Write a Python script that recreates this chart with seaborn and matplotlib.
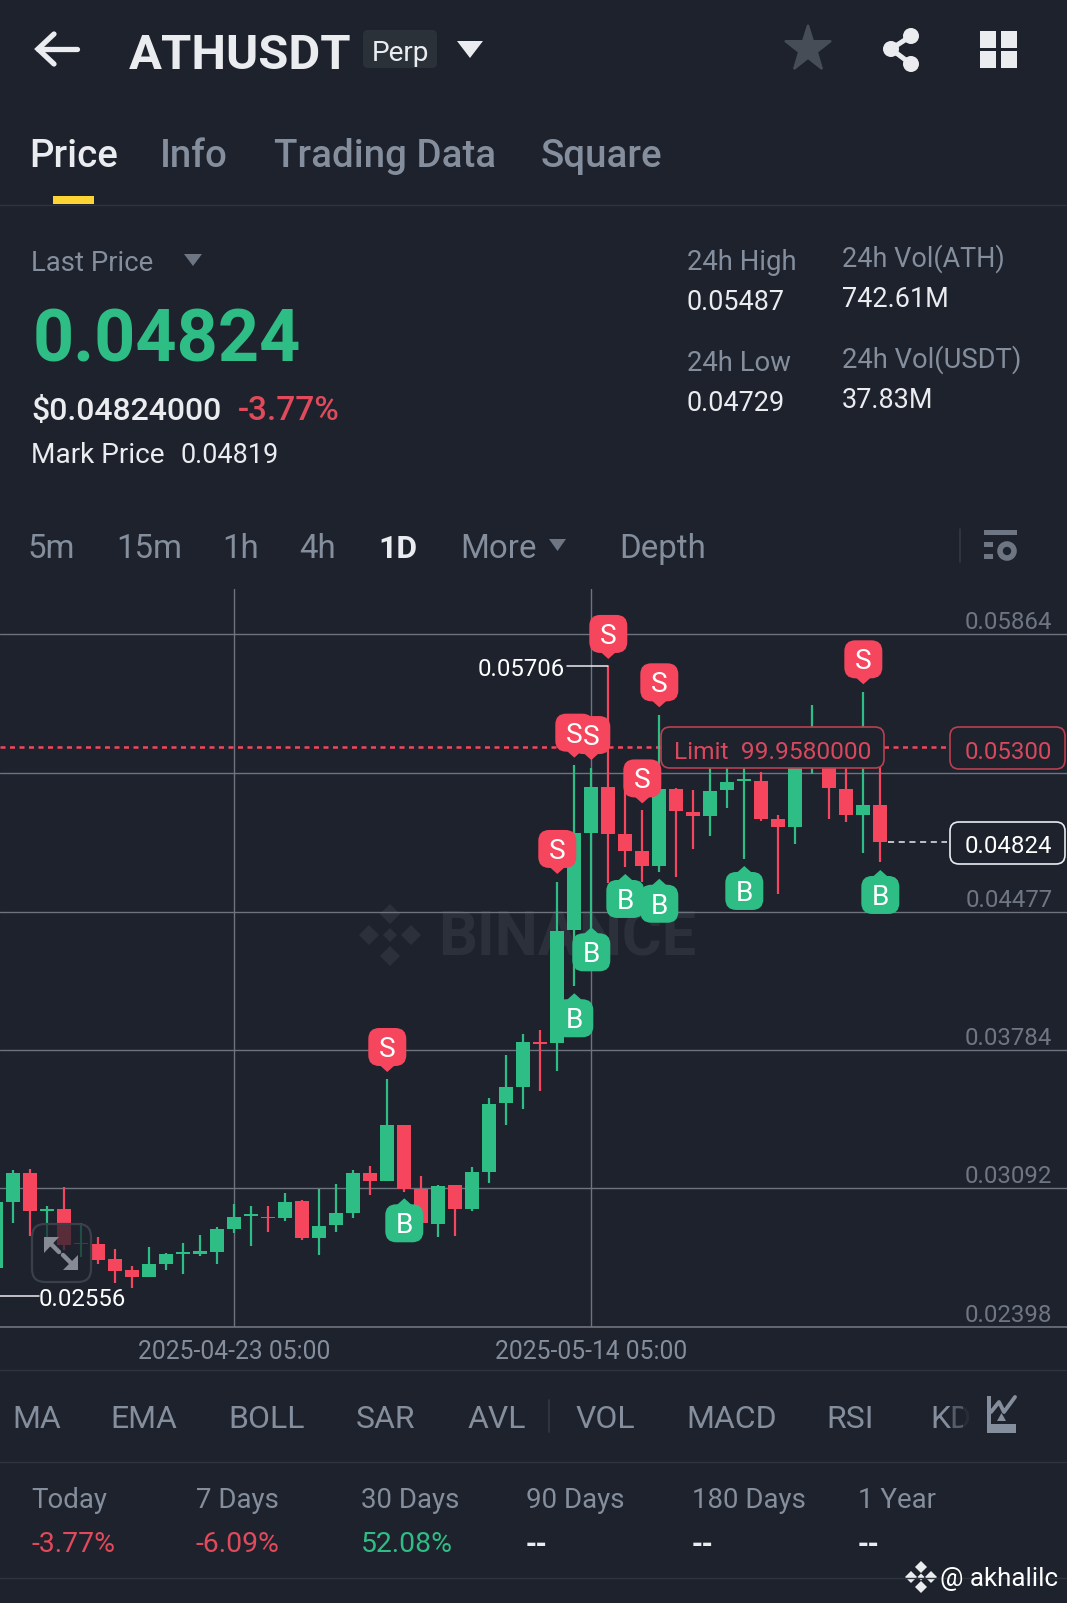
import numpy as np
import pandas as pd
import matplotlib
matplotlib.use('Agg')
import matplotlib.pyplot as plt
from matplotlib.patches import FancyBboxPatch, Polygon, Rectangle, Circle
import seaborn as sns

# ==========================================
# data (daily candles)
# ==========================================
opens = [0.02692, 0.03025, 0.03167, 0.02978, 0.02990, 0.02813, 0.02812, 0.02737, 0.02683, 0.02650,
         0.02712, 0.02763, 0.02763, 0.02775, 0.02887, 0.02953, 0.02950, 0.02943, 0.03029, 0.02845,
         0.02908, 0.02970, 0.03167, 0.03129, 0.03407, 0.03087, 0.02915, 0.03107, 0.02987, 0.03175,
         0.03517, 0.03599, 0.03823, 0.03818, 0.04385, 0.04868, 0.05099, 0.04865, 0.04782, 0.04707,
         0.05090, 0.04977, 0.04955, 0.05085, 0.05132, 0.05132, 0.04942, 0.04902, 0.05252, 0.05335,
         0.05092, 0.04960, 0.05008]
closes = [0.03025, 0.03167, 0.02977, 0.02987, 0.02808, 0.02820, 0.02733, 0.02680, 0.02650, 0.02713,
          0.02762, 0.02775, 0.02777, 0.02887, 0.02950, 0.02962, 0.02942, 0.03025, 0.02842, 0.02905,
          0.02970, 0.03167, 0.03129, 0.03407, 0.03087, 0.02917, 0.03105, 0.02987, 0.03175, 0.03514,
          0.03597, 0.03826, 0.03814, 0.04381, 0.04868, 0.05099, 0.04865, 0.04782, 0.04707, 0.05090,
          0.04980, 0.04955, 0.05080, 0.05127, 0.05142, 0.04942, 0.04898, 0.05252, 0.05369, 0.05097,
          0.04960, 0.05008, 0.04824]
highs = [0.03035, 0.03184, 0.03189, 0.03005, 0.03097, 0.02917, 0.02850, 0.02790, 0.02705, 0.02800,
         0.02770, 0.02817, 0.02858, 0.02897, 0.03012, 0.03002, 0.03004, 0.03067, 0.03032, 0.03087,
         0.03115, 0.03184, 0.03202, 0.03637, 0.03407, 0.03154, 0.03109, 0.03110, 0.03200, 0.03542,
         0.03759, 0.03864, 0.03884, 0.04626, 0.05210, 0.05197, 0.05706, 0.05085, 0.04985, 0.05460,
         0.05095, 0.05085, 0.05252, 0.05252, 0.05252, 0.05177, 0.04960, 0.05285, 0.05511, 0.05369,
         0.05219, 0.05577, 0.05252]
lows = [0.02680, 0.02917, 0.02853, 0.02842, 0.02783, 0.02750, 0.02713, 0.02617, 0.02593, 0.02650,
        0.02683, 0.02663, 0.02753, 0.02713, 0.02867, 0.02803, 0.02875, 0.02930, 0.02833, 0.02757,
        0.02875, 0.02943, 0.03059, 0.03129, 0.03075, 0.02917, 0.02848, 0.02853, 0.02980, 0.03120,
        0.03407, 0.03489, 0.03579, 0.03679, 0.04104, 0.04385, 0.04618, 0.04702, 0.04626, 0.04677,
        0.04652, 0.04788, 0.04855, 0.04993, 0.04740, 0.04930, 0.04565, 0.04815, 0.05165, 0.04940,
        0.04923, 0.04768, 0.04723]

# grid levels on the price axis
price_grid = [0.05864, 0.05170, 0.04477, 0.03784, 0.03092, 0.02398]
price_labels = [0.05864, 0.04477, 0.03784, 0.03092, 0.02398]
date_idx = [14, 35]
date_labels = ['2025-04-23 05:00', '2025-05-14 05:00']

# buy / sell badges: candle index, price at the badge tip
sell_idx = [23, 33, 34, 35, 36, 38, 39, 51]
sell_tip = [0.03674, 0.04665, 0.05247, 0.05235, 0.05741, 0.05018, 0.05499, 0.05614]
buy_idx = [24, 34, 35, 37, 39, 44, 52]
buy_tip = [0.03042, 0.04068, 0.04398, 0.04665, 0.04641, 0.04705, 0.04685]

last_price = 0.04824
limit_price = 0.05300
chart_high = 0.05706

tabs = ['Price', 'Info', 'Trading Data', 'Square']
intervals = ['5m', '15m', '1h', '4h', '1D', 'More', 'Depth']
indicators = ['MA', 'EMA', 'BOLL', 'SAR', 'AVL', 'VOL', 'MACD', 'RSI', 'KD']
period_names = ['Today', '7 Days', '30 Days', '90 Days', '180 Days', '1 Year']
period_values = ['-3.77%', '-6.09%', '52.08%', '--', '--', '--']

BG = '#1D222D'
GREEN = '#2EBD85'
RED = '#F6465D'
GRAY = '#848E9C'
DIM = '#6F7683'
WHITE = '#EAECEF'
LINE = '#6E7380'

df = pd.DataFrame({'idx': range(len(opens)), 'open': opens, 'close': closes, 'high': highs, 'low': lows})
df['side'] = np.where(df['close'] >= df['open'], 'up', 'down')
df['bottom'] = df[['open', 'close']].min(axis=1)
df['body'] = (df['close'] - df['open']).abs()

wicks = df.melt(id_vars=['idx', 'side'], value_vars=['high', 'low'], value_name='price')

sns.set_theme(style='dark', rc={'axes.facecolor': BG, 'figure.facecolor': BG})
plt.rcParams['font.family'] = ['Roboto', 'DejaVu Sans']

W, H = 1067, 1603
fig = plt.figure(figsize=(W / 100, H / 100), dpi=100, facecolor=BG)

# back layer for watermark, chart in the middle, UI on top
back = fig.add_axes([0, 0, 1, 1], zorder=0)
ax = fig.add_axes([0, 1 - 1327 / H, 1, (1327 - 589) / H], zorder=1)
ax.patch.set_alpha(0)
ui = fig.add_axes([0, 0, 1, 1], zorder=2)
for a in (back, ui):
    a.set_xlim(0, W)
    a.set_ylim(H, 0)
    a.axis('off')
    a.patch.set_alpha(0)


def txt(a, x, y, s, px, color, weight='normal', ha='left', **kw):
    return a.text(x, y, s, fontsize=px * 0.72, color=color, fontweight=weight, ha=ha, va='baseline', **kw)


# ==========================================
# CANDLES
# ==========================================
sns.lineplot(data=wicks, x='idx', y='price', hue='side', units='idx', estimator=None, sort=False,
             palette={'up': GREEN, 'down': RED}, legend=False, linewidth=1.6, ax=ax, zorder=3,
             solid_capstyle='butt')
for side, col in [('up', GREEN), ('down', RED)]:
    part = df[df['side'] == side]
    sns.barplot(data=part, x='idx', y='body', bottom=part['bottom'].to_numpy(), color=col, saturation=1,
                native_scale=True, width=0.82, errorbar=None, linewidth=0, ax=ax, zorder=4)

ax.set_xlim(0.22, 62.98)
ax.set_ylim(0.02398, 0.02398 + 738 * 5.004e-5)
ax.set_xlabel('')
ax.set_ylabel('')
ax.set_yticks(price_grid)
ax.set_yticklabels([])
ax.set_xticks(date_idx)
ax.set_xticklabels(date_labels)
ax.tick_params(axis='x', length=0, pad=9.2, labelsize=24.6 * 0.72, labelcolor=GRAY)
ax.tick_params(axis='y', length=0)
ax.set_axisbelow(True)
ax.grid(True, color=LINE, linewidth=1.0)
for name, sp in ax.spines.items():
    sp.set_visible(name == 'bottom')
    sp.set_color(LINE)
    sp.set_linewidth(1.2)

for v in price_labels:
    ax.annotate(f'{v:.5f}', xy=(1, v), xycoords=ax.get_yaxis_transform(), xytext=(-10.5, 3.6),
                textcoords='offset points', ha='right', va='baseline', fontsize=24 * 0.72, color=DIM, zorder=2)

ax.axhline(limit_price, xmax=950 / W, color=RED, linewidth=1.8, linestyle=(0, (2, 1.8)), zorder=2.5)


def to_px(i, p):
    return ui.transData.inverted().transform(ax.transData.transform((i, p)))


# ==========================================
# price labels on the chart
# ==========================================
xl, yl = to_px(36, chart_high)
ui.plot([567, xl], [yl, yl], color=WHITE, lw=1.1)
txt(ui, 565, 676, f'{chart_high:.5f}', 24, '#FFFFFF', ha='right')
ui.plot([0, 39], [1296, 1296], color=WHITE, lw=1.1)
txt(ui, 39, 1306, '0.02556', 24, '#FFFFFF')

# limit order
ui.add_patch(FancyBboxPatch((661, 727), 223, 41, boxstyle='round,pad=0,rounding_size=9', fc=BG, ec='#B9404F', lw=1.2, zorder=5))
txt(ui, 674, 759, 'Limit  99.9580000', 24.5, '#D9485C', zorder=6)
ui.add_patch(FancyBboxPatch((950, 727), 115, 42, boxstyle='round,pad=0,rounding_size=9', fc=BG, ec='#B9404F', lw=1.2, zorder=5))
txt(ui, 1008, 759, f'{limit_price:.5f}', 24, '#D9485C', ha='center', zorder=6)

# last price
xl, yl = to_px(52, last_price)
ui.plot([xl + 8, 947], [yl, yl], color=WHITE, lw=1.1, ls=(0, (4, 3)))
ui.add_patch(FancyBboxPatch((950, 822), 115, 42, boxstyle='round,pad=0,rounding_size=9', fc=BG, ec=WHITE, lw=1.2, zorder=5))
txt(ui, 1008, 853, f'{last_price:.5f}', 24, '#FFFFFF', ha='center', zorder=6)


# ==========================================
# S / B badges
# ==========================================
def badge(i, tip, letter, col):
    x, y = to_px(i, tip)
    s = -1 if letter == 'S' else 1   # S sits above the tip, B below
    top = y + s * 6 if s > 0 else y - 44
    ui.add_patch(FancyBboxPatch((x - 19, top), 38, 38, boxstyle='round,pad=0,rounding_size=11', fc=col, ec='none', zorder=7))
    ui.add_patch(Polygon([(x - 10, y + s * 9), (x + 10, y + s * 9), (x, y)], fc=col, ec='none', zorder=7))
    txt(ui, x, top + 29, letter, 28, '#FFFFFF', ha='center', zorder=8)


for i, p in zip(sell_idx, sell_tip):
    badge(i, p, 'S', RED)
for i, p in zip(buy_idx, buy_tip):
    badge(i, p, 'B', GREEN)

# expand button over the chart
ui.add_patch(FancyBboxPatch((32, 1224), 59, 58, boxstyle='round,pad=0,rounding_size=13', fc=BG, alpha=0.72, ec='none', zorder=5))
ui.add_patch(FancyBboxPatch((32, 1224), 59, 58, boxstyle='round,pad=0,rounding_size=13', fc='none', ec='#3A3F4A', lw=1.6, zorder=5))
ui.add_patch(Polygon([(44, 1237), (59, 1237), (44, 1253)], fc='#868B95', ec='none', zorder=6))
ui.add_patch(Polygon([(78, 1270), (63, 1270), (78, 1255)], fc='#868B95', ec='none', zorder=6))
ui.plot([50, 59], [1243, 1252], color='#868B95', lw=3.2, zorder=6)
ui.plot([63, 72], [1255, 1264], color='#868B95', lw=3.2, zorder=6)

# watermark
txt(back, 438, 955, 'BINANCE', 61, '#2B303A', weight='bold')
for dx, dy, r in [(0, -21, 10), (-21, 0, 10), (21, 0, 10), (0, 21, 10), (0, 0, 7)]:
    back.add_patch(Polygon([(390 + dx, 935 + dy - r), (390 + dx + r, 935 + dy), (390 + dx, 935 + dy + r), (390 + dx - r, 935 + dy)], fc='#2B303A', ec='none'))

# ==========================================
# HEADER
# ==========================================
ui.plot([38, 77], [49, 49], color=WHITE, lw=3.8)
ui.plot([54, 38, 54], [34, 49, 64], color=WHITE, lw=3.8, solid_joinstyle='miter')
txt(ui, 129, 69, 'ATHUSDT', 49, WHITE, weight='bold')
ui.add_patch(FancyBboxPatch((363, 30), 74, 38, boxstyle='round,pad=0,rounding_size=5', fc='#2B3139', ec='none'))
txt(ui, 400, 61, 'Perp', 28, WHITE, ha='center')
ui.add_patch(Polygon([(457, 41), (483, 41), (470, 58)], fc=WHITE, ec='none', joinstyle='round'))
ui.plot([808], [49], marker='*', ms=35, color='#474D57', mec='#474D57', mew=1.5)

# share icon
ui.plot([911, 891, 911], [36, 49, 64], color=WHITE, lw=3.6)
for cx, cy in [(911, 36), (891, 49), (911, 64)]:
    ui.add_patch(Circle((cx, cy), 8, fc=WHITE, ec='none'))
# grid icon
for gx in (980, 1001):
    for gy in (31, 51):
        ui.add_patch(Rectangle((gx, gy), 16, 16.5, fc=WHITE, ec='none'))

# tabs
tab_x = [29, 160, 274, 541]
for name, x, col in zip(tabs, tab_x, [WHITE, GRAY, GRAY, GRAY]):
    txt(ui, x, 167, name, 38.5, col, weight='medium')
ui.add_patch(Rectangle((53, 196), 41, 8, fc='#FCD535', ec='none'))
ui.plot([0, W], [204.5, 204.5], color='#2F343C', lw=1)

# price block
txt(ui, 31, 271, 'Last Price', 27.5, GRAY)
ui.add_patch(Polygon([(184, 254), (202, 254), (193, 266)], fc=DIM, ec='none'))
txt(ui, 33, 361, '0.04824', 72, GREEN, weight='bold')
txt(ui, 31, 420, '$0.04824000', 32, WHITE, weight='medium')
txt(ui, 238, 420, '-3.77%', 33.5, '#E04A5B', weight='medium')
txt(ui, 31, 463, 'Mark Price', 28, WHITE)
txt(ui, 181, 463, '0.04819', 27, WHITE)

txt(ui, 687, 270, '24h High', 27.5, GRAY)
txt(ui, 687, 310, '0.05487', 27, WHITE)
txt(ui, 687, 371, '24h Low', 27.5, GRAY)
txt(ui, 687, 411, '0.04729', 27, WHITE)
txt(ui, 842, 267, '24h Vol(ATH)', 27, GRAY)
txt(ui, 842, 307, '742.61M', 27, WHITE)
txt(ui, 842, 368, '24h Vol(USDT)', 27.4, GRAY)
txt(ui, 842, 408, '37.83M', 27, WHITE)

# interval row
int_x = [28, 116, 222, 299, 378, 460, 619]
for name, x in zip(intervals, int_x):
    if name == '1D':
        txt(ui, x, 558, name, 32, WHITE, weight='bold')
    else:
        txt(ui, x, 558, name, 33, GRAY)
ui.add_patch(Polygon([(549, 539), (566, 539), (557.5, 551)], fc=DIM, ec='none'))
ui.plot([960, 960], [529, 562], color='#343941', lw=1.2)
# settings icon
ui.add_patch(Rectangle((984, 530), 33, 4.5, fc=DIM, ec='none'))
ui.add_patch(Rectangle((984, 542), 9, 4.5, fc=DIM, ec='none'))
ui.add_patch(Rectangle((984, 554), 9, 4.5, fc=DIM, ec='none'))
ui.add_patch(Circle((1007, 551), 7, fc=BG, ec=DIM, lw=4))

# ==========================================
# BOTTOM ROWS
# ==========================================
ui.plot([0, W], [1370, 1370], color='#2F343C', lw=1)
ui.plot([0, W], [1462, 1462], color='#2F343C', lw=1)
ui.plot([0, W], [1578, 1578], color='#2F343C', lw=1)

ind_x = [12, 110, 228, 356, 467, 576, 686, 826, 930]
for name, x in zip(indicators, ind_x):
    txt(ui, x, 1428, name, 32, GRAY)
ui.plot([549, 549], [1400, 1432], color='#343941', lw=1.2)
# KD fades out at the end of the scroll row
ui.add_patch(Rectangle((951, 1400), 12, 34, fc=BG, ec='none', alpha=0.45, zorder=4))
ui.add_patch(Rectangle((963, 1400), 14, 34, fc=BG, ec='none', alpha=0.9, zorder=4))
# indicator icon
ui.add_patch(Polygon([(987, 1396), (991, 1396), (991, 1424), (1016, 1424), (1016, 1433), (987, 1433)], fc=GRAY, ec='none', zorder=5))
ui.plot([991, 999, 1004, 1015], [1412, 1402, 1412, 1397], color=GRAY, lw=2.8, zorder=5)
ui.add_patch(Polygon([(997, 1421), (1006, 1421), (1001.5, 1413)], fc=GRAY, ec='none', zorder=5))

per_x = [31, 196, 361, 526, 692, 858]
val_col = ['#E04A5B', '#E04A5B', GREEN, WHITE, WHITE, WHITE]
for name, val, x, col in zip(period_names, period_values, per_x, val_col):
    txt(ui, x, 1508, name, 27.6, GRAY)
    if val == '--':
        # Roboto kerns the two dashes into one
        txt(ui, x, 1552, val, 26, col, weight='bold', family='DejaVu Sans')
    else:
        txt(ui, x, 1552, val, 28.4, col)

# corner tag
for dx, dy, r in [(0, -10, 6), (-10, 0, 6), (10, 0, 6), (0, 10, 6), (0, 0, 3.5)]:
    ui.add_patch(Polygon([(921 + dx, 1577 + dy - r), (921 + dx + r, 1577 + dy), (921 + dx, 1577 + dy + r), (921 + dx - r, 1577 + dy)], fc=WHITE, ec='none'))
txt(ui, 940, 1586, '@ akhalilc', 26, '#FFFFFF')

fig.savefig('out.png', dpi=100, facecolor=BG)
